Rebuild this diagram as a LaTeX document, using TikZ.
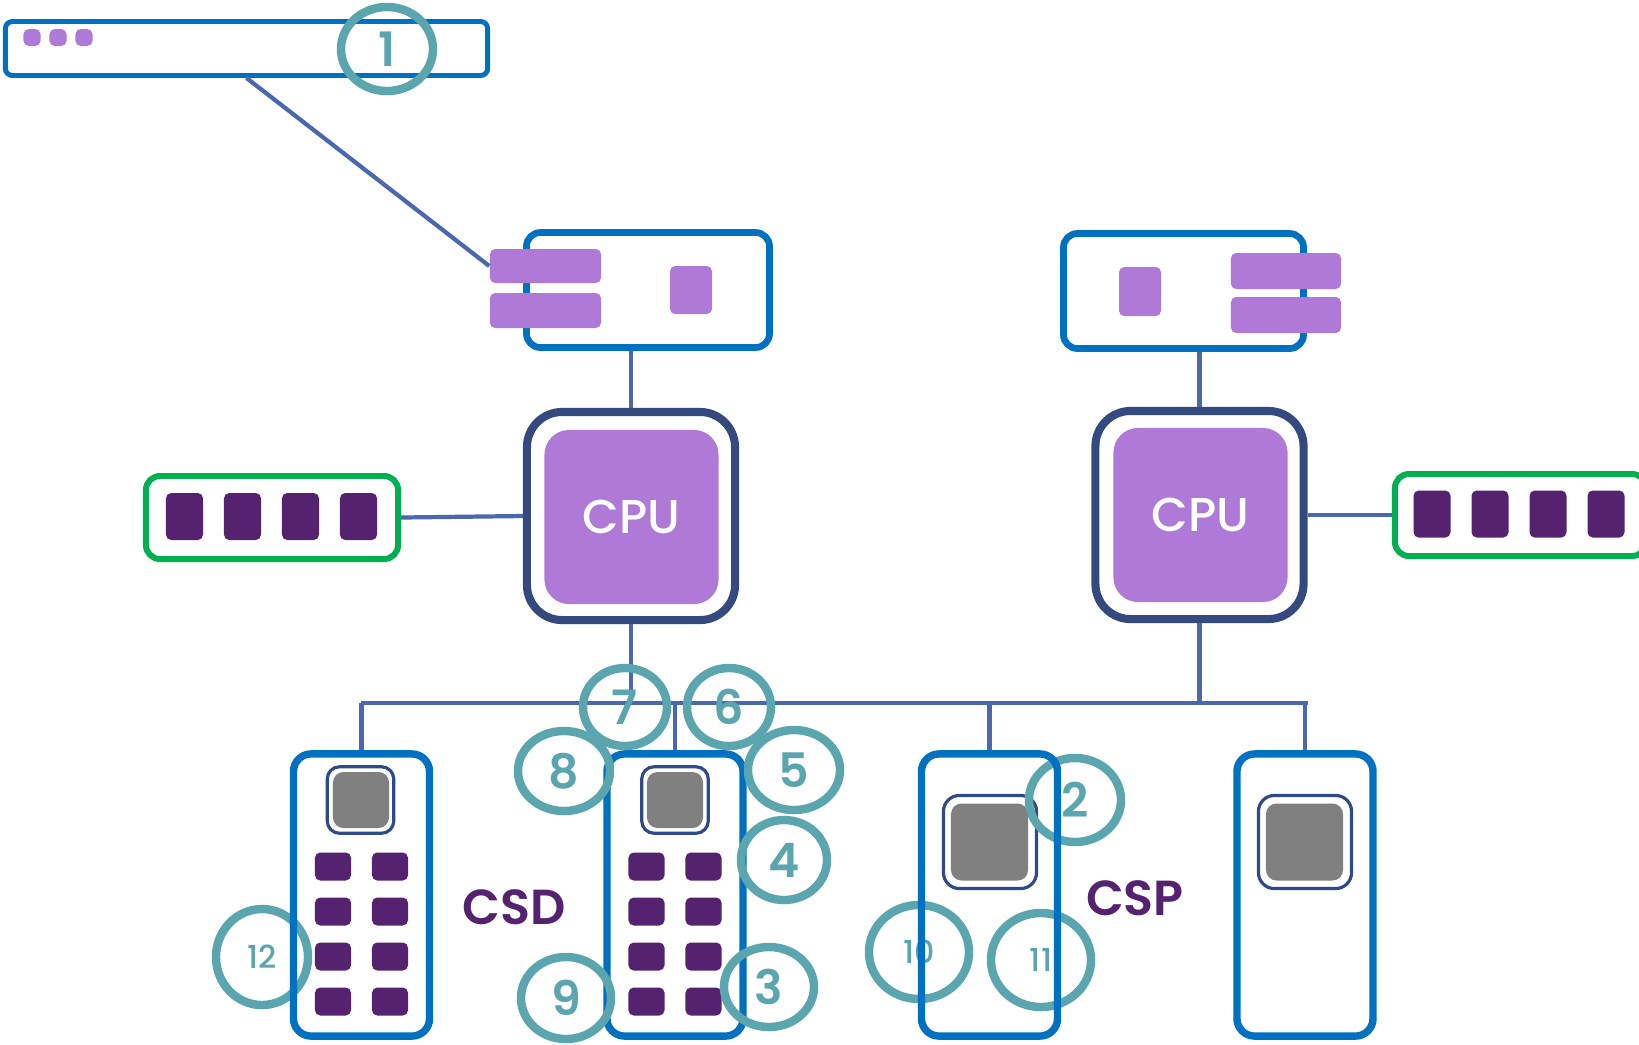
\documentclass[tikz,border=0pt]{standalone}
\usepackage{fontspec}
\setmainfont{Poppins}
\newfontfamily\medfont{Poppins Medium}
\newfontfamily\semifont{Poppins SemiBold}
\usetikzlibrary{positioning,shapes.geometric}
\definecolor{boxc}{HTML}{0070C0}
\definecolor{lilac}{HTML}{AF79D7}
\definecolor{plum}{HTML}{55226F}
\definecolor{navyc}{HTML}{344A7F}
\definecolor{wirec}{HTML}{4A67AF}
\definecolor{grnc}{HTML}{00B050}
\definecolor{ringc}{HTML}{5BA5AE}
\definecolor{chipc}{HTML}{2F4A8A}
\definecolor{diec}{HTML}{808080}
\tikzset{
  wire/.style={draw=wirec,line width=1.2pt},
  card/.style={draw=boxc,line width=1.9pt,rounded corners=4pt,inner sep=0pt},
  slot/.style={fill=lilac,rounded corners=1.5pt,inner sep=0pt},
  cpu/.style={draw=navyc,line width=2.3pt,rounded corners=10pt,minimum size=2.08cm,inner sep=0pt},
  core/.style={fill=lilac,rounded corners=7pt,minimum size=1.74cm,inner sep=0pt,text=white,font=\medfont\fontsize{13.5}{14}\selectfont},
  dimm/.style={draw=grnc,line width=1.7pt,rounded corners=4pt,minimum width=2.52cm,minimum height=0.83cm,inner sep=0pt},
  cell/.style={fill=plum,rounded corners=1.5pt,minimum width=0.37cm,minimum height=0.47cm,inner sep=0pt},
  drive/.style={draw=boxc,line width=2.1pt,rounded corners=5pt,minimum width=1.36cm,minimum height=2.82cm,inner sep=0pt},
  chip/.style={draw=chipc,line width=0.9pt,fill=white,rounded corners=3.5pt,inner sep=0pt},
  die/.style={fill=diec,rounded corners=3pt,inner sep=0pt},
  flash/.style={fill=plum,rounded corners=1.5pt,minimum width=0.36cm,minimum height=0.28cm,inner sep=0pt},
  ring/.style={ellipse,draw=ringc,line width=2.4pt,inner sep=0pt,text=ringc,font=\semifont\fontsize{13.5}{14}\selectfont},
  smallring/.style={ring,font=\medfont\fontsize{9}{10}\selectfont},
  lbl/.style={text=plum,font=\semifont\fontsize{14}{15}\selectfont}
}
\begin{document}
\begin{tikzpicture}[x=0.01cm,y=-0.01cm]
\useasboundingbox (0,0) rectangle (1639,1044);
% top bar
\node[card,line width=1.4pt,rounded corners=2pt,minimum width=4.82cm,minimum height=0.54cm] (bar) at (246.5,48.5) {};
\foreach \i in {0,1,2}
  \node[slot,minimum size=0.17cm] (bs\i) at ({32+26*\i},37.5) {};
% network cards
\node[card,minimum width=2.43cm,minimum height=1.15cm] (netA) at (648,290) {};
\node[slot,minimum width=1.11cm,minimum height=0.34cm] (slA1) at (545.5,266) {};
\node[slot,minimum width=1.11cm,minimum height=0.35cm] (slA2) at (545.5,310.5) {};
\node[slot,minimum width=0.42cm,minimum height=0.48cm] (slA3) at (691,290) {};
\node[card,minimum width=2.40cm,minimum height=1.15cm] (netB) at (1183.5,291) {};
\node[slot,minimum width=0.42cm,minimum height=0.49cm] (slB1) at (1140,291.5) {};
\node[slot,minimum width=1.10cm,minimum height=0.36cm] (slB2) at (1286,271) {};
\node[slot,minimum width=1.10cm,minimum height=0.36cm] (slB3) at (1286,315) {};
% cpus
\node[cpu] (cpuA) at (631,516) {};
\node[core] (coreA) at (631.5,517) {CPU};
\node[cpu] (cpuB) at (1199.5,515) {};
\node[core] (coreB) at (1200.5,515) {CPU};
% memory
\node[dimm] (gA) at (272,517.5) {};
\foreach \i in {0,...,3}
  \node[cell] (gA\i) at ({184.5+58*\i},516.5) {};
\node[dimm,minimum width=2.51cm,minimum height=0.82cm] (gB) at (1520.5,515) {};
\foreach \i in {0,...,3}
  \node[cell] (gB\i) at ({1432+58*\i},514) {};
% chips inside drives
\node[chip,minimum size=0.665cm] (chA) at (360.5,800) {};
\node[die,minimum size=0.56cm] (dieA) at (361,800) {};
\node[chip,minimum size=0.665cm] (chB) at (675,800) {};
\node[die,minimum size=0.56cm] (dieB) at (675,800) {};
\node[chip,minimum size=0.93cm,rounded corners=4.5pt] (chC) at (990,842) {};
\node[die,minimum size=0.77cm] (dieC) at (989.5,842) {};
\node[chip,minimum size=0.93cm,rounded corners=4.5pt] (chD) at (1305,842) {};
\node[die,minimum size=0.77cm] (dieD) at (1304.5,842) {};
\foreach \d/\cx in {A/361.5,B/675}
  \foreach \r in {0,...,3} {
    \node[flash] (fl\d\r l) at ({\cx-28.5},{866.5+45*\r}) {};
    \node[flash] (fl\d\r r) at ({\cx+28.5},{866.5+45*\r}) {};
  }
% rings under the drive outlines
\node[smallring,minimum width=0.92cm,minimum height=0.96cm] (r12) at (262,957) {12};
\node[ring,minimum width=0.92cm,minimum height=0.84cm] (r2) at (1075,800) {2};
\node[smallring,minimum width=1.00cm,minimum height=0.94cm] (r10) at (919,952) {10};
\node[smallring,minimum width=1.00cm,minimum height=0.94cm] (r11) at (1041,960) {11};
% drives
\node[drive] (dA) at (361.5,895) {};
\node[drive] (dB) at (675,895) {};
\node[drive] (dC) at (989.5,895) {};
\node[drive] (dD) at (1305,895) {};
\node[lbl] (csd) at (514,907) {CSD};
\node[lbl] (csp) at (1135,898) {CSP};
% wires
\draw[wire] (bar.south) -- (slA1.west);
\draw[wire] (cpuA.north) -- (cpuA.north |- netA.south);
\draw[wire] (cpuB.north) -- (cpuB.north |- netB.south);
\draw[wire] (gA.east) -- (cpuA.west);
\draw[wire] (cpuB.east) -- (gB.west);
\coordinate (busL) at (361,703);
\coordinate (busR) at (1308,703);
\draw[wire] (busL) -- (busR);
\draw[wire] (cpuA.south) -- (cpuA.south |- busL);
\draw[wire] (cpuB.south) -- (cpuB.south |- busL);
\foreach \d in {dA,dB,dC,dD}
  \draw[wire] (\d.north) -- (\d.north |- busL);
% rings
\node[ring,minimum width=0.92cm,minimum height=0.84cm] (r1) at (387,49) {1};
\node[ring,minimum width=0.84cm,minimum height=0.78cm] (r7) at (625,707) {7};
\node[ring,minimum width=0.84cm,minimum height=0.78cm] (r6) at (729,707) {6};
\node[ring,minimum width=0.92cm,minimum height=0.80cm] (r8) at (564,771) {8};
\node[ring,minimum width=0.92cm,minimum height=0.80cm] (r5) at (794,770) {5};
\node[ring,minimum width=0.86cm,minimum height=0.80cm] (r4) at (784,860) {4};
\node[ring,minimum width=0.90cm,minimum height=0.80cm] (r3) at (769,987) {3};
\node[ring,minimum width=0.90cm,minimum height=0.82cm] (r9) at (566,998) {9};
\end{tikzpicture}
\end{document}
